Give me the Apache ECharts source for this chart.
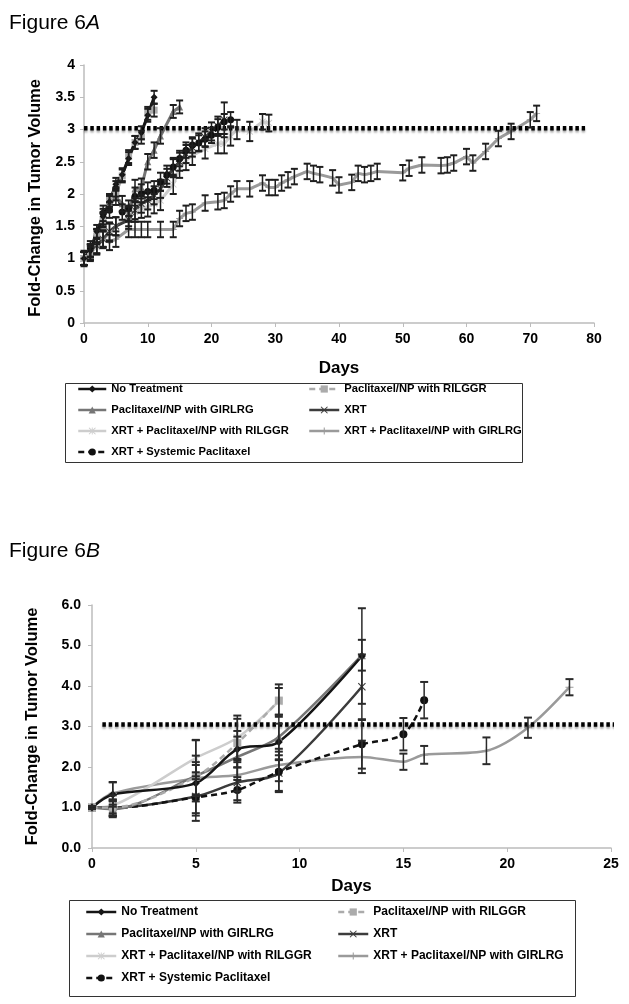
<!DOCTYPE html>
<html><head><meta charset="utf-8">
<script src="https://cdn.jsdelivr.net/npm/echarts@6/dist/echarts.min.js"></script>
<style>html,body{margin:0;padding:0;background:#fff}#c{width:629px;height:1004px}</style>
</head><body><div id="c"></div>
<script>
// ---------- names ----------
const names = ['No Treatment','Paclitaxel/NP with RILGGR','Paclitaxel/NP with GIRLRG','XRT',
  'XRT + Paclitaxel/NP with RILGGR','XRT + Paclitaxel/NP with GIRLRG','XRT + Systemic Paclitaxel'];
const legendLeftNames = ['No Treatment','Paclitaxel/NP with GIRLRG','XRT + Paclitaxel/NP with RILGGR','XRT + Systemic Paclitaxel'];
const legendRightNames = ['Paclitaxel/NP with RILGGR','XRT','XRT + Paclitaxel/NP with GIRLRG'];

// ---------- Figure 6A ----------
const aTicksX = [0,10,20,30,40,50,60,70,80];
const aTicksY = [0,0.5,1,1.5,2,2.5,3,3.5,4];
const aNoTxDays = [0,1,2,3,4,5,6,7,8,9,10,11];
const aNoTxVals = [1.0,1.12,1.42,1.65,1.88,2.15,2.3,2.55,2.8,2.95,3.22,3.5];
const aNoTxErr  = [0.12,0.1,0.1,0.12,0.12,0.1,0.1,0.1,0.1,0.1,0.1,0.1];
const aRilDays = [0,1,2,3,4,5,6,7,8,9,10,11];
const aRilVals = [1.0,1.08,1.35,1.6,1.9,2.0,2.28,2.58,2.8,2.88,3.25,3.3];
const aRilErr  = [0.1,0.1,0.1,0.1,0.1,0.1,0.1,0.1,0.1,0.1,0.1,0.1];
const aGirDays = [0,1,2,3,4,5,6,7,8,9,10,11,12,14,15];
const aGirVals = [1.0,1.12,1.35,1.6,1.85,1.95,1.85,1.7,2.08,2.1,2.5,2.68,2.9,3.28,3.35];
const aGirErr  = [0.1,0.1,0.1,0.12,0.12,0.12,0.12,0.12,0.14,0.14,0.12,0.12,0.12,0.1,0.1];
const aXrtDays = [0,1,2,3,4,5,7,8,9,10,11,12,13,14,15,16,17,18,19,20,21,22];
const aXrtVals = [1.0,1.1,1.2,1.3,1.42,1.5,1.6,1.75,1.85,1.9,1.98,2.08,2.25,2.4,2.5,2.62,2.72,2.8,2.88,2.97,3.05,3.15];
const aXrtErr  = [0.1,0.12,0.12,0.12,0.14,0.14,0.14,0.14,0.14,0.14,0.14,0.14,0.14,0.14,0.14,0.14,0.14,0.14,0.14,0.14,0.15,0.27];
const aXrilDays = [0,1,2,3,4,5,7,8,9,10,11,12,14,15,16,17,19,21,22,23,24,26,28,29];
const aXrilVals = [1.0,1.08,1.18,1.3,1.4,1.5,1.65,1.72,1.78,1.8,1.85,1.9,2.15,2.4,2.52,2.6,2.7,2.78,2.78,2.9,3.0,2.97,3.12,3.1];
const aXrilErr  = [0.1,0.12,0.12,0.14,0.14,0.14,0.15,0.15,0.15,0.15,0.15,0.15,0.15,0.15,0.15,0.15,0.15,0.15,0.15,0.15,0.15,0.15,0.12,0.13];
const aXgirDays = [0,1,2,3,4,5,7,8,9,10,12,14,15,16,17,19,21,22,23,24,26,28,29,30,31,32,33,35,36,37,39,40,42,43,44,45,46,50,51,53,56,57,58,60,61,63,65,67,70,71];
const aXgirVals = [1.0,1.12,1.2,1.3,1.25,1.3,1.45,1.45,1.45,1.45,1.45,1.45,1.62,1.7,1.72,1.86,1.88,1.9,2.0,2.08,2.08,2.17,2.1,2.1,2.17,2.22,2.27,2.35,2.32,2.3,2.25,2.14,2.18,2.32,2.3,2.32,2.35,2.33,2.4,2.45,2.44,2.45,2.48,2.58,2.48,2.66,2.86,2.97,3.15,3.25];
const aXgirErr  = [0.1,0.1,0.12,0.12,0.12,0.12,0.12,0.12,0.12,0.12,0.12,0.12,0.12,0.12,0.12,0.12,0.12,0.12,0.12,0.12,0.12,0.12,0.12,0.12,0.12,0.12,0.12,0.12,0.12,0.12,0.12,0.12,0.12,0.12,0.12,0.12,0.12,0.12,0.12,0.12,0.12,0.12,0.12,0.12,0.12,0.12,0.12,0.12,0.12,0.12];
const aSysDays = [0,1,2,3,4,5,6,7,8,9,10,11,12,13,14,15,16,17,18,19,20,21,22,23];
const aSysVals = [1.0,1.15,1.34,1.7,1.75,2.08,1.72,1.78,1.96,2.01,2.04,2.06,2.19,2.3,2.42,2.55,2.68,2.76,2.79,2.85,2.91,3.04,3.12,3.15];
const aSysErr  = [0.1,0.12,0.12,0.12,0.12,0.12,0.12,0.12,0.14,0.14,0.14,0.14,0.14,0.14,0.14,0.12,0.12,0.12,0.12,0.12,0.12,0.12,0.12,0.12];
const aThresholdDays = [0, 78.6];
const aThreshold = 3.02;

// ---------- Figure 6B ----------
const bTicksX = [0,5,10,15,20,25];
const bTicksY = [0,1,2,3,4,5,6];
const bNoTxDays = [0,1,5,7,9,13];
const bNoTxVals = [1.0,1.32,1.6,2.44,2.62,4.74];
const bNoTxErr  = [0.03,0.3,0.45,0.45,0.45,1.18];
const bRilDays = [0,1,5,7,9];
const bRilVals = [1.0,1.0,1.76,2.59,3.64];
const bRilErr  = [0.03,0.15,0.9,0.6,0.4];
const bGirDays = [0,1,5,7,9,13];
const bGirVals = [1.0,0.96,1.78,2.25,2.74,4.76];
const bGirErr  = [0.03,0.2,0.5,0.5,0.55,0.38];
const bXrtDays = [0,1,5,7,9,13];
const bXrtVals = [1.0,1.0,1.27,1.62,1.85,3.98];
const bXrtErr  = [0.03,0.2,0.6,0.5,0.44,0.8];
const bXrilDays = [0,1,5,7,9];
const bXrilVals = [1.0,1.05,2.22,2.72,3.62];
const bXrilErr  = [0.03,0.25,0.45,0.55,0.33];
const bXgirDays = [0,1,5,7,9,13,15,16,19,21,23];
const bXgirVals = [1.0,1.35,1.72,1.8,2.05,2.25,2.13,2.3,2.4,2.97,3.97];
const bXgirErr  = [0.03,0.28,0.4,0.4,0.4,0.4,0.2,0.22,0.33,0.25,0.2];
const bSysDays = [0,1,5,7,9,13,15,16];
const bSysVals = [1.0,0.99,1.25,1.43,1.88,2.56,2.81,3.65];
const bSysErr  = [0.03,0.2,0.45,0.25,0.5,0.6,0.4,0.45];
const bThresholdDays = [0.5, 25.3];
const bThreshold = 3.05;

// ---------- styles ----------
const X_PATH = 'path://M1,0L5,4L9,0L10,1L6,5L10,9L9,10L5,6L1,10L0,9L4,5L0,1Z';
const STAR_PATH = 'path://M1,0L5,4L9,0L10,1L6,5L10,9L9,10L5,6L1,10L0,9L4,5L0,1Z M4.4,0L5.6,0L5.6,10L4.4,10Z';
const PLUS_PATH = 'path://M4.3,0H5.7V4.3H10V5.7H5.7V10H4.3V5.7H0V4.3H4.3Z';
const styles = {
  'No Treatment': {color:'#151515', symbol:'diamond', dash:'solid'},
  'Paclitaxel/NP with RILGGR': {color:'#ababab', symbol:'rect', dash:[6,4]},
  'Paclitaxel/NP with GIRLRG': {color:'#767676', symbol:'triangle', dash:'solid'},
  'XRT': {color:'#3c3c3c', symbol:X_PATH, dash:'solid'},
  'XRT + Paclitaxel/NP with RILGGR': {color:'#cdcdcd', symbol:STAR_PATH, dash:'solid'},
  'XRT + Paclitaxel/NP with GIRLRG': {color:'#9a9a9a', symbol:PLUS_PATH, dash:'solid'},
  'XRT + Systemic Paclitaxel': {color:'#111111', symbol:'circle', dash:[6,4]}
};

const FONT = '"Liberation Sans", Arial, sans-serif';

function lineSeries(name, days, vals, gi, opts) {
  const s = styles[name];
  return {
    type:'line', name, xAxisIndex:gi, yAxisIndex:gi,
    data: days.map((d,i)=>[d, vals[i]]),
    symbol: s.symbol, symbolSize: opts.sym, showSymbol:true,
    smooth: opts.smooth,
    itemStyle:{color:s.color, borderWidth:0},
    lineStyle:{color:s.color, width:opts.lw, type:s.dash},
    z: 3, animation:false, silent:true
  };
}
function errSeries(days, vals, errs, gi, cap, color) {
  return {
    type:'custom', xAxisIndex:gi, yAxisIndex:gi, z:5, silent:true, animation:false,
    data: days.map((d,i)=>[d, vals[i]-errs[i], vals[i]+errs[i]]),
    encode:{x:0, y:[1,2]},
    renderItem: function(params, api){
      const x = api.value(0);
      const lo = api.coord([x, api.value(1)]);
      const hi = api.coord([x, api.value(2)]);
      const st = {stroke:color, lineWidth:1.5};
      return {type:'group', children:[
        {type:'line', shape:{x1:lo[0],y1:lo[1],x2:hi[0],y2:hi[1]}, style:st},
        {type:'line', shape:{x1:lo[0]-cap,y1:lo[1],x2:lo[0]+cap,y2:lo[1]}, style:{stroke:color,lineWidth:2}},
        {type:'line', shape:{x1:hi[0]-cap,y1:hi[1],x2:hi[0]+cap,y2:hi[1]}, style:{stroke:color,lineWidth:2}}
      ]};
    }
  };
}
function thresholdSeries(days, v, gi) {
  return {
    type:'line', name:'threshold'+gi, xAxisIndex:gi, yAxisIndex:gi, clip:false,
    data: days.map(d=>[d, v]), symbol:'none', z:4, silent:true, animation:false,
    lineStyle:{color:'#000', width:4.5, type:[3.5,2.8], shadowColor:'rgba(0,0,0,0.35)', shadowOffsetY:2, shadowBlur:2}
  };
}

const aSets = [
  ['No Treatment', aNoTxDays, aNoTxVals, aNoTxErr],
  ['Paclitaxel/NP with RILGGR', aRilDays, aRilVals, aRilErr],
  ['Paclitaxel/NP with GIRLRG', aGirDays, aGirVals, aGirErr],
  ['XRT', aXrtDays, aXrtVals, aXrtErr],
  ['XRT + Paclitaxel/NP with RILGGR', aXrilDays, aXrilVals, aXrilErr],
  ['XRT + Paclitaxel/NP with GIRLRG', aXgirDays, aXgirVals, aXgirErr],
  ['XRT + Systemic Paclitaxel', aSysDays, aSysVals, aSysErr]
];
const bSets = [
  ['No Treatment', bNoTxDays, bNoTxVals, bNoTxErr],
  ['Paclitaxel/NP with RILGGR', bRilDays, bRilVals, bRilErr],
  ['Paclitaxel/NP with GIRLRG', bGirDays, bGirVals, bGirErr],
  ['XRT', bXrtDays, bXrtVals, bXrtErr],
  ['XRT + Paclitaxel/NP with RILGGR', bXrilDays, bXrilVals, bXrilErr],
  ['XRT + Paclitaxel/NP with GIRLRG', bXgirDays, bXgirVals, bXgirErr],
  ['XRT + Systemic Paclitaxel', bSysDays, bSysVals, bSysErr]
];

const series = [];
const aOrder = [5,4,3,6,2,1,0];
aOrder.forEach(i=>{ const s=aSets[i]; series.push(lineSeries(s[0], s[1], s[2], 0, {sym:7, lw:3, smooth:false})); });
aOrder.forEach(i=>{ const s=aSets[i]; series.push(errSeries(s[1], s[2], s[3], 0, 3.5, '#1e1e1e')); });
series.push(thresholdSeries(aThresholdDays, aThreshold, 0));
const bOrder = [5,4,3,6,2,1,0];
bOrder.forEach(i=>{ const s=bSets[i]; series.push(lineSeries(s[0], s[1], s[2], 1, {sym:8, lw:2.5, smooth:0.3})); });
bOrder.forEach(i=>{ const s=bSets[i]; series.push(errSeries(s[1], s[2], s[3], 1, 4, '#2a2a2a')); });
series.push(thresholdSeries(bThresholdDays, bThreshold, 1));

function xAxisCfg(gi, ticks){
  return {type:'value', gridIndex:gi, min:ticks[0], max:ticks[ticks.length-1], interval:ticks[1]-ticks[0],
    name:'Days', nameLocation:'middle', nameGap: gi===0?37:30,
    nameTextStyle:{fontFamily:FONT, fontWeight:'bold', fontSize:17, color:'#000'},
    axisLine:{lineStyle:{color:'#bcbcbc', width:1.5}},
    axisTick:{show:true, inside:false, length:4, lineStyle:{color:'#bcbcbc', width:1}},
    axisLabel:{fontFamily:FONT, fontWeight:'bold', fontSize:14, color:'#000', margin:9},
    splitLine:{show:false}};
}
function yAxisCfg(gi, ticks, fmt){
  return {type:'value', gridIndex:gi, min:ticks[0], max:ticks[ticks.length-1], interval:ticks[1]-ticks[0],
    name:'Fold-Change in Tumor Volume', nameLocation:'middle', nameGap: gi===0?40:51,
    nameTextStyle:{fontFamily:FONT, fontWeight:'bold', fontSize:16.5, color:'#000', padding: gi===0?[0,0,0,-8]:0},
    axisLine:{show:true, lineStyle:{color:'#bcbcbc', width:1.5}},
    axisTick:{show:true, inside:false, length:4, lineStyle:{color:'#bcbcbc', width:1}},
    axisLabel:{fontFamily:FONT, fontWeight:'bold', fontSize:14, color:'#000', margin: gi===0?9:11, formatter:fmt},
    splitLine:{show:false}};
}
function legendCfg(left, top, data, iw, fs, gap){
  return {left, top, orient:'vertical', data, itemWidth:iw, itemHeight:9, itemGap:gap, padding:0,
    selectedMode:false, lineStyle:{width:2.5},
    textStyle:{fontFamily:FONT, fontWeight:'bold', fontSize:fs, color:'#000'}};
}

const option = {
  backgroundColor:'#fff', animation:false,
  title:[
    {text:'Figure 6{i|A}', left:4, top:8, textStyle:{fontFamily:FONT, fontWeight:'normal', fontSize:21, color:'#000',
      rich:{i:{fontStyle:'italic', fontFamily:FONT, fontSize:21, color:'#000'}}}},
    {text:'Figure 6{i|B}', left:4, top:536, textStyle:{fontFamily:FONT, fontWeight:'normal', fontSize:21, color:'#000',
      rich:{i:{fontStyle:'italic', fontFamily:FONT, fontSize:21, color:'#000'}}}}
  ],
  grid:[
    {left:84, top:65, width:510, height:258},
    {left:92, top:605, width:519, height:243}
  ],
  xAxis:[xAxisCfg(0, aTicksX), xAxisCfg(1, bTicksX)],
  yAxis:[yAxisCfg(0, aTicksY, v=>String(v)), yAxisCfg(1, bTicksY, v=>v.toFixed(1))],
  legend:[
    legendCfg(77, 383.5, legendLeftNames, 28, 11.2, 10),
    legendCfg(308, 383.5, legendRightNames, 30, 11.2, 10),
    legendCfg(85, 906, legendLeftNames, 30, 12, 10),
    legendCfg(337, 906, legendRightNames, 30, 12, 10)
  ],
  graphic:[
    {type:'rect', shape:{x:65.5, y:383.5, width:457, height:79}, style:{fill:'none', stroke:'#333', lineWidth:1}},
    {type:'rect', shape:{x:69.5, y:900.5, width:506, height:96}, style:{fill:'none', stroke:'#333', lineWidth:1}}
  ],
  series
};
const chart = echarts.init(document.getElementById('c'), null, {renderer:'canvas'});
chart.setOption(option);
</script>
</body></html>
